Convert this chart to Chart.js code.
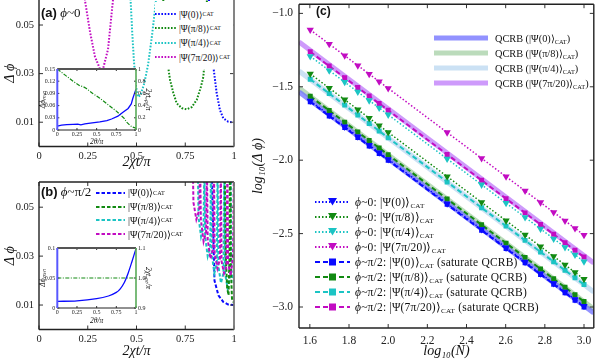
<!DOCTYPE html>
<html>
<head>
<meta charset="utf-8">
<script src="https://cdn.jsdelivr.net/npm/chart.js@4.4.1/dist/chart.umd.min.js"></script>
<style>
  body { margin: 0; background: #fff; }
  #wrap { position: relative; width: 598px; height: 360px; overflow: hidden; font-family: 'Liberation Serif', serif; color: #111; }
  canvas { position: absolute; }
  .leg { position: absolute; white-space: nowrap; }
  .leg div { display: flex; align-items: center; }
  .leg svg { margin-right: 3px; flex: none; }
  sub { font-size: 0.62em; vertical-align: -0.25em; line-height: 0; }
  .lbl { position: absolute; white-space: nowrap; }
</style>
</head>
<body>
<div id="wrap">
  <canvas id="cA" width="245" height="172" style="left:0;top:0"></canvas>
  <div class="leg" id="legA" style="left:155px;top:2px;width:78px;height:62px;background:#fff;font-size:9.3px"></div>
  <canvas id="cAi" width="122" height="84" style="left:38px;top:64px"></canvas>
  <canvas id="cB" width="245" height="188" style="left:0;top:172px"></canvas>
  <div class="leg" id="legB" style="left:96px;top:186px;font-size:10px"></div>
  <canvas id="cBi" width="122" height="84" style="left:38px;top:243px"></canvas>
  <canvas id="cC" width="353" height="360" style="left:245px;top:0"></canvas>
  <div class="leg" id="legC1" style="left:434px;top:31px;font-size:10.3px"></div>
  <div class="leg" id="legC2" style="left:315px;top:194px;font-size:11.5px;letter-spacing:0.2px"></div>
  <div class="lbl" style="left:41px;top:5px;font-size:13px"><b style="font-family:'Liberation Sans',sans-serif">(a)</b> <i>ϕ</i>~0</div>
  <div class="lbl" style="left:41px;top:184px;font-size:13px"><b style="font-family:'Liberation Sans',sans-serif">(b)</b> <i>ϕ</i>~π/2</div>
  <div class="lbl" style="left:316px;top:4px;font-size:12px;font-family:'Liberation Sans',sans-serif"><b>(c)</b></div>
</div>
<script>
// ---- shared ----
const states = ['0', 'π/8', 'π/4', '7π/20'];
const BLUE = '#0a0aff', GREEN = '#128a12', CYAN = '#1cc4c4', MAG = '#c20cc2';
const stateColors = [BLUE, GREEN, CYAN, MAG];

// ---- panel (a): phi ~ 0 ----
const tTicks = [0, 0.25, 0.5, 0.75, 1];
const dTicks = [0.01, 0.03, 0.05];
const aBlueX = [0.864, 0.872, 0.882, 0.894, 0.911, 0.928, 0.945, 0.971, 1.0];
const aBlueY = [0.075, 0.060, 0.045, 0.033, 0.022, 0.015, 0.0116, 0.0102, 0.0099];
const aGreenX = [0.630, 0.640, 0.660, 0.672, 0.689, 0.706, 0.732, 0.757, 0.783, 0.809, 0.831, 0.843, 0.855, 0.866];
const aGreenY = [0.075, 0.055, 0.034, 0.0274, 0.022, 0.0178, 0.0158, 0.0153, 0.0162, 0.0192, 0.0247, 0.0288, 0.042, 0.075];
const aCyanX = [0.462, 0.470, 0.478, 0.487, 0.497, 0.507, 0.520, 0.540, 0.560, 0.580, 0.600, 0.610];
const aCyanY = [0.070, 0.060, 0.047, 0.035, 0.025, 0.0205, 0.021, 0.026, 0.034, 0.046, 0.060, 0.070];
const aMagX = [0.226, 0.236, 0.262, 0.287, 0.313, 0.328, 0.354, 0.379, 0.388];
const aMagY = [0.070, 0.060, 0.047, 0.037, 0.0318, 0.0318, 0.040, 0.060, 0.070];

// inset (a)
const iThetaTicks = [0, 0.25, 0.5, 0.75, 1];
const iaLeftTicks = [0, 0.03, 0.06, 0.09, 0.12, 0.15];
const iaRightTicks = [0, 0.2, 0.4, 0.6, 0.8, 1];
const iaMinX = [0, 0.055, 0.12, 0.2, 0.26, 0.3, 0.35, 0.42, 0.54, 0.63, 0.69, 0.77, 0.83, 0.9, 0.94, 0.96, 0.99, 1.0];
const iaMinY = [0.0098, 0.012, 0.013, 0.014, 0.0142, 0.0125, 0.015, 0.017, 0.02, 0.023, 0.027, 0.034, 0.043, 0.053, 0.064, 0.078, 0.095, 0.1];
const iaOptX = [0, 0.1, 0.2, 0.28, 0.3, 0.33, 0.37, 0.45, 0.54, 0.63, 0.75, 0.85, 0.88, 0.92, 0.95, 1.0];
const iaOptY = [1.0, 0.9, 0.8, 0.73, 0.72, 0.71, 0.68, 0.6, 0.52, 0.43, 0.31, 0.19, 0.13, 0.08, 0.05, 0.03];

// ---- panel (b): phi ~ pi/2 ----
const bBlueX = [0.884, 0.900, 0.920, 0.945, 0.970, 1.0];
const bBlueY = [0.070, 0.020, 0.014, 0.0113, 0.0102, 0.0100];
const bGreenX = [0.952, 0.958, 0.965, 0.972, 0.977, 0.979, 0.981, 0.984, 0.990, 1.0];
const bGreenY = [0.070, 0.030, 0.017, 0.014, 0.030, 0.070, 0.070, 0.025, 0.012, 0.011];
const bCyanX = [0.814, 0.818, 0.831, 0.844, 0.848, 0.852, 0.865, 0.878, 0.882, 0.886, 0.899, 0.912, 0.916, 0.920, 0.933, 0.946, 0.950, 0.954, 0.967, 0.979, 0.983, 0.987, 1.0];
const bCyanY = [0.070, 0.046, 0.038, 0.042, 0.070, 0.038, 0.030, 0.034, 0.070, 0.031, 0.023, 0.027, 0.070, 0.026, 0.019, 0.023, 0.070, 0.023, 0.017, 0.021, 0.070, 0.024, 0.019];
const bMagX = [0.788, 0.792, 0.807, 0.822, 0.826, 0.830, 0.844, 0.857, 0.861, 0.865, 0.879, 0.893, 0.897, 0.901, 0.915, 0.928, 0.932, 0.936, 0.949, 0.962, 0.966, 0.970, 0.983, 0.995, 1.0];
const bMagY = [0.070, 0.052, 0.045, 0.049, 0.070, 0.045, 0.036, 0.040, 0.070, 0.037, 0.029, 0.033, 0.070, 0.031, 0.025, 0.029, 0.070, 0.028, 0.023, 0.026, 0.070, 0.027, 0.022, 0.030, 0.070];

// inset (b)
const ibLeftTicks = [0, 0.05, 0.1];
const ibRightTicks = [0.9, 1.0, 1.1];
const ibMinX = [0, 0.25, 0.5, 0.65, 0.75, 0.8, 0.85, 0.9, 0.95, 1.0];
const ibMinY = [0.011, 0.012, 0.0155, 0.02, 0.026, 0.032, 0.042, 0.058, 0.078, 0.099];
const ibOptX = [0, 1];
const ibOptY = [1.0, 1.0];

// ---- panel (c): log10(dphi) vs log10(N) ----
const logN = [1.602, 1.699, 1.778, 1.845, 1.903, 1.954, 2.000, 2.301, 2.477, 2.602, 2.699, 2.778, 2.845, 2.903, 2.954, 3.000];
const cXTicks = [1.6, 1.8, 2.0, 2.2, 2.4, 2.6, 2.8, 3.0];
const cYTicks = [-3.0, -2.5, -2.0, -1.5, -1.0];
// phi ~ 0 (dotted, triangles)
const triBlue  = [-1.596, -1.693, -1.772, -1.839, -1.897, -1.948, -1.994, -2.295, -2.471, -2.596, -2.693, -2.772, -2.839, -2.897, -2.948, -2.994];
const triGreen = [-1.412, -1.509, -1.588, -1.655, -1.713, -1.764, -1.810, -2.111, -2.287, -2.412, -2.509, -2.588, -2.655, -2.713, -2.764, -2.810];
const triCyan  = [-1.292, -1.389, -1.468, -1.535, -1.593, -1.644, -1.690, -1.991, -2.167, -2.292, -2.389, -2.468, -2.535, -2.593, -2.644, -2.690];
const triMag   = [-1.112, -1.209, -1.288, -1.355, -1.413, -1.464, -1.510, -1.811, -1.987, -2.112, -2.209, -2.288, -2.355, -2.413, -2.464, -2.510];
// phi ~ pi/2 (dashed, squares)
const sqBlue  = [-1.602, -1.699, -1.778, -1.845, -1.903, -1.954, -2.000, -2.301, -2.477, -2.602, -2.699, -2.778, -2.845, -2.903, -2.954, -3.000];
const sqGreen = [-1.565, -1.662, -1.741, -1.808, -1.866, -1.917, -1.963, -2.264, -2.440, -2.565, -2.662, -2.741, -2.808, -2.866, -2.917, -2.963];
const sqCyan  = [-1.449, -1.546, -1.625, -1.692, -1.750, -1.801, -1.847, -2.148, -2.324, -2.449, -2.546, -2.625, -2.692, -2.750, -2.801, -2.847];
const sqMag   = [-1.262, -1.359, -1.438, -1.505, -1.563, -1.614, -1.660, -1.961, -2.137, -2.262, -2.359, -2.438, -2.505, -2.563, -2.614, -2.660];
// QCRB lines (end points)
const qcrbX = [1.545, 3.05];
const qcrbBlue  = [-1.535, -3.040];
const qcrbGreen = [-1.508, -3.013];
const qcrbCyan  = [-1.393, -2.898];
const qcrbMag   = [-1.195, -2.700];
const qcrbColors = ['rgba(110,110,255,0.75)', 'rgba(150,200,150,0.65)', 'rgba(185,215,240,0.75)', 'rgba(190,120,250,0.75)'];

// ---- helpers ----
const pairs = (xs, ys) => xs.map((x, i) => ({ x, y: ys[i] }));
const plain = v => String(+v.toFixed(3));
const minus1 = v => v.toFixed(1).replace('-', '\u2212');

function line(data, color, dash, width, extra = {}) {
  return Object.assign({
    data, borderColor: color, backgroundColor: color, borderWidth: width,
    borderDash: dash, pointRadius: 0, tension: 0, fill: false
  }, extra);
}

function linScale(min, max, ticks, fmt, o) {
  return {
    type: 'linear', min, max, position: o.position,
    grid: { display: false, drawTicks: false },
    border: { display: false },
    afterBuildTicks: s => { s.ticks = ticks.map(v => ({ value: v })); },
    afterFit: s => {
      if (s.isHorizontal()) s.height = o.size; else s.width = o.size;
      s.paddingTop = s.paddingBottom = s.paddingLeft = s.paddingRight = 0;
    },
    ticks: { callback: fmt, font: o.font, color: '#222', padding: o.pad, maxRotation: 0, autoSkip: false },
    title: o.title ? Object.assign({ display: true, color: '#111' }, o.title) : { display: false }
  };
}

// frame with inward ticks
const framePlugin = {
  id: 'frame',
  beforeDatasetsDraw(chart, args, o) {
    if (!o.fill) return;
    const a = chart.chartArea, ctx = chart.ctx;
    ctx.save();
    ctx.fillStyle = o.fill;
    ctx.fillRect(a.left, a.top, a.right - a.left, a.bottom - a.top);
    ctx.restore();
  },
  afterDatasetsDraw(chart, args, o) {
    const a = chart.chartArea, ctx = chart.ctx, L = o.tick || 4;
    const seg = (x1, y1, x2, y2) => { ctx.beginPath(); ctx.moveTo(x1, y1); ctx.lineTo(x2, y2); ctx.stroke(); };
    ctx.save();
    ctx.strokeStyle = o.tickColor || '#333';
    ctx.lineWidth = 1;
    const sx = chart.scales.x, sy = chart.scales.y, sy2 = chart.scales.y2;
    sx.ticks.forEach(t => {
      const p = sx.getPixelForValue(t.value);
      seg(p, a.bottom, p, a.bottom - L);
      if (o.topTicks) seg(p, a.top, p, a.top + L);
    });
    sy.ticks.forEach(t => {
      const p = sy.getPixelForValue(t.value);
      seg(a.left, p, a.left + L, p);
      if (!sy2) seg(a.right, p, a.right - L, p);
    });
    if (sy2) sy2.ticks.forEach(t => {
      const p = sy2.getPixelForValue(t.value);
      seg(a.right, p, a.right - L, p);
    });
    const sides = o.sides || {};
    const side = (s, x1, y1, x2, y2) => {
      if (!sides[s]) return;
      ctx.strokeStyle = sides[s][0];
      ctx.lineWidth = sides[s][1];
      seg(x1, y1, x2, y2);
    };
    side('top', a.left, a.top, a.right, a.top);
    side('bottom', a.left, a.bottom, a.right, a.bottom);
    side('left', a.left, a.top, a.left, a.bottom);
    side('right', a.right, a.top, a.right, a.bottom);
    ctx.restore();
  }
};

function makeChart(id, datasets, scales, padding, frame) {
  return new Chart(document.getElementById(id), {
    type: 'line',
    data: { datasets },
    options: {
      responsive: false, animation: false, events: [],
      layout: { padding },
      scales,
      plugins: { legend: { display: false }, tooltip: { enabled: false }, frame }
    },
    plugins: [framePlugin]
  });
}

const serif = (size, style) => ({ family: "'Liberation Serif', serif", size, style: style || 'normal' });
const dark = ['#222', 1.4];

// ---- panel (a) ----
const aData = [[aBlueX, aBlueY], [aGreenX, aGreenY], [aCyanX, aCyanY], [aMagX, aMagY]];
makeChart('cA',
  aData.map((d, i) => line(pairs(d[0], d[1]), stateColors[i], [1.6, 1.6], 2)),
  {
    x: linScale(0, 1, tTicks, plain, { size: 25.5, font: serif(10.5), pad: 3,
      title: { text: '2χt/π', font: serif(14, 'italic'), padding: { top: 0, bottom: 1.5 } } }),
    y: linScale(0, 0.0603, dTicks, plain, { size: 39, font: serif(10.5), pad: 5,
      title: { text: 'Δ ϕ', font: serif(14, 'italic'), padding: { top: 2, bottom: 0 } } })
  },
  { top: 0, right: 11, left: 0, bottom: 0 },
  { sides: { bottom: dark, left: dark, right: ['#777', 1.8] } }
);

// inset (a)
makeChart('cAi',
  [
    line(pairs(iaMinX, iaMinY), BLUE, [], 1.3, { yAxisID: 'y' }),
    line(pairs(iaOptX, iaOptY), GREEN, [4, 1.5, 1, 1.5], 1.2, { yAxisID: 'y2' })
  ],
  {
    x: linScale(0, 1, iThetaTicks, plain, { size: 18, font: serif(6), pad: 1,
      title: { text: '2θ/π', font: serif(7.5, 'italic'), padding: { top: 0, bottom: 1 } } }),
    y: linScale(0, 0.15, iaLeftTicks, plain, { size: 19.3, font: serif(6), pad: 2,
      title: { text: 'Δϕₘᵢₙ', font: serif(7.5, 'italic'), padding: { top: 1, bottom: 0 } } }),
    y2: linScale(0, 1, iaRightTicks, plain, { position: 'right', size: 24, font: serif(6), pad: 2,
      title: { text: '2χtₒₚₜ/π', font: serif(7.5, 'italic'), padding: { top: 7.5, bottom: 0 } } })
  },
  { top: 5, right: 0, left: 0, bottom: 0 },
  { fill: '#fff', tick: 2, topTicks: true,
    sides: { top: ['#555', 2], bottom: ['#222', 1], left: ['#5858ff', 2], right: ['#58aa58', 1.6] } }
);

// ---- panel (b) ----
const bData = [[bBlueX, bBlueY], [bGreenX, bGreenY], [bCyanX, bCyanY], [bMagX, bMagY]];
const bOrder = [3, 1, 2, 0];
makeChart('cB',
  bOrder.map(i => line(pairs(bData[i][0], bData[i][1]), stateColors[i], [3.5, 2], 2)),
  {
    x: linScale(0, 1, tTicks, plain, { size: 30.5, font: serif(10.5), pad: 3,
      title: { text: '2χt/π', font: serif(14, 'italic'), padding: { top: 0, bottom: 0.5 } } }),
    y: linScale(0, 0.0603, dTicks, plain, { size: 39, font: serif(10.5), pad: 5,
      title: { text: 'Δ ϕ', font: serif(14, 'italic'), padding: { top: 2, bottom: 0 } } })
  },
  { top: 10, right: 11, left: 0, bottom: 0 },
  { topTicks: true, sides: { top: dark, bottom: dark, left: dark, right: ['#777', 1.8] } }
);

// inset (b)
makeChart('cBi',
  [
    line(pairs(ibMinX, ibMinY), BLUE, [], 1.3, { yAxisID: 'y', tension: 0.3 }),
    line(pairs(ibOptX, ibOptY), GREEN, [4, 1.5, 1, 1.5], 1.2, { yAxisID: 'y2' })
  ],
  {
    x: linScale(0, 1, iThetaTicks, plain, { size: 19, font: serif(6), pad: 1,
      title: { text: '2θ/π', font: serif(7.5, 'italic'), padding: { top: 0, bottom: 1 } } }),
    y: linScale(0, 0.1, ibLeftTicks, plain, { size: 19.3, font: serif(6), pad: 2,
      title: { text: 'Δϕₘᵢₙ', font: serif(7.5, 'italic'), padding: { top: 1, bottom: 0 } } }),
    y2: linScale(0.9, 1.1, ibRightTicks, v => v.toFixed(1), { position: 'right', size: 24, font: serif(6), pad: 2,
      title: { text: '2χtₒₚₜ/π', font: serif(7.5, 'italic'), padding: { top: 7.5, bottom: 0 } } })
  },
  { top: 5, right: 0, left: 0, bottom: 0 },
  { fill: '#fff', tick: 2, topTicks: true,
    sides: { top: ['#555', 2], bottom: ['#222', 1], left: ['#5858ff', 2], right: ['#58aa58', 1.6] } }
);

// ---- panel (c) ----
const triSeries = [triBlue, triGreen, triCyan, triMag];
const sqSeries = [sqBlue, sqGreen, sqCyan, sqMag];
const qcrbSeries = [qcrbBlue, qcrbGreen, qcrbCyan, qcrbMag];
const cSets = [];
triSeries.forEach((ys, i) => cSets.push(line(pairs(logN, ys), stateColors[i], [1.5, 2], 1.5,
  { pointStyle: 'triangle', rotation: 180, pointRadius: 4.2, pointBorderWidth: 0 })));
sqSeries.forEach((ys, i) => cSets.push(line(pairs(logN, ys), stateColors[i], [5, 3], 2,
  { pointStyle: 'rect', pointRadius: 3.5, pointBorderWidth: 0 })));
qcrbSeries.forEach((ys, i) => cSets.push(line(pairs(qcrbX, ys), qcrbColors[i], [], 5, { order: 5 })));

makeChart('cC', cSets,
  {
    x: linScale(1.5446, 3.05, cXTicks, v => v.toFixed(1), { size: 32, font: serif(11.5), pad: 6,
      title: { text: 'log₁₀(N)', font: serif(14, 'italic'), padding: { top: 0, bottom: 0.5 } } }),
    y: linScale(-3.143, -0.9375, cYTicks, minus1, { size: 54, font: serif(11.5), pad: 6,
      title: { text: 'log₁₀(Δ ϕ)', font: serif(14, 'italic'), padding: { top: 4.5, bottom: 0 } } })
  },
  { top: 0, right: 0, left: 0, bottom: 0 },
  { topTicks: true, sides: { top: dark, bottom: dark, left: dark, right: dark } }
);

// ---- legends (HTML) ----
function sample(color, dash, width, w, marker) {
  let s = `<svg width="${w}" height="10"><line x1="0" y1="5" x2="${w}" y2="5" stroke="${color}" stroke-width="${width}" stroke-dasharray="${dash}"/>`;
  const c = w / 2;
  if (marker === 'tri') s += `<polygon points="${c - 4.5},1 ${c + 4.5},1 ${c},8.5" fill="${color}"/>`;
  if (marker === 'sq') s += `<rect x="${c - 3.5}" y="1.5" width="7" height="7" fill="${color}"/>`;
  return s + '</svg>';
}
const ket = st => `|Ψ(${st})⟩<sub>CAT</sub>`;

document.getElementById('legA').innerHTML = states.map((st, i) =>
  `<div style="height:14.3px">${sample(stateColors[i], '1.6 1.6', 2, 21)}${ket(st)}</div>`).join('');
document.getElementById('legA').style.paddingTop = '5px';

document.getElementById('legB').innerHTML = states.map((st, i) =>
  `<div style="height:13.8px">${sample(stateColors[i], '3.5 2', 2, 29)}${ket(st)}</div>`).join('');

document.getElementById('legC1').innerHTML = states.map((st, i) =>
  `<div style="height:14.8px">${sample(qcrbColors[i], '', 5, 54)}<span style="margin-left:4px">QCRB (${ket(st)})</span></div>`).join('');

document.getElementById('legC2').innerHTML =
  states.map((st, i) => `<div style="height:15px">${sample(stateColors[i], '1.5 2', 2, 35, 'tri')}<span style="margin-left:2px"><i>ϕ</i>~0: ${ket(st)}</span></div>`).join('') +
  states.map((st, i) => `<div style="height:15px">${sample(stateColors[i], '5 3', 2, 35, 'sq')}<span style="margin-left:2px"><i>ϕ</i>~π/2: ${ket(st)} (saturate QCRB)</span></div>`).join('');
</script>
</body>
</html>
